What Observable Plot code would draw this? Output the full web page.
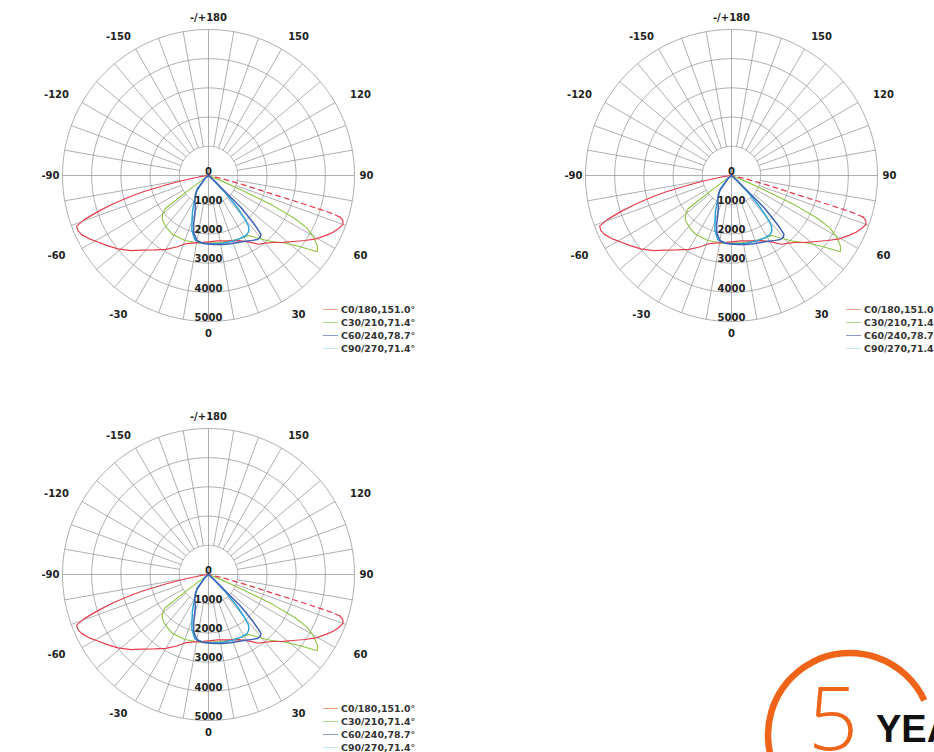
<!DOCTYPE html>
<html><head><meta charset="utf-8">
<script src="https://cdn.jsdelivr.net/npm/d3@7"></script>
<script src="https://cdn.jsdelivr.net/npm/@observablehq/plot@0.6"></script>
<style>
html,body{margin:0;padding:0;background:#fff;}
#root{position:relative;width:934px;height:752px;overflow:hidden;background:#fff;}
.chart{position:absolute;}
.legend{position:absolute;font:bold 9.4px "DejaVu Sans",sans-serif;color:#333;white-space:nowrap;}
.legend .row{display:flex;align-items:center;height:13px;}
.legend .sw{flex:none;width:15px;height:1px;margin-right:3px;}
#logo{position:absolute;left:0;top:0;}
</style></head><body><div id="root"></div>
<script>
// ---------- data ----------
const ringValues = [1000, 2000, 3000, 4000, 5000];
const radialLabelValues = [0, 1000, 2000, 3000, 4000, 5000];
const angleLabelAngles = [0, 30, 60, 90, 120, 150, 180, -150, -120, -90, -60, -30];
const angleLabelTexts = ["0", "30", "60", "90", "120", "150", "-/+180", "-150", "-120", "-90", "-60", "-30"];
const seriesNames = ["C0/180,151.0°", "C30/210,71.4°", "C60/240,78.7°", "C90/270,71.4°"];
const seriesColors = ["#e63b4c", "#8cc443", "#3f62b5", "#2fa4dc"];
const legendColors = ["#f3a27e", "#a8d98a", "#8c9cc8", "#bfe6f2"];

// gamma angle (negative = opposite half-plane) and intensity (cd)
const c0Gamma = [-90,-82,-79,-77.5,-76,-75,-73.5,-72,-70.5,-69,-67,-65,-62,-59,-55,-51,-46,-42,-36,-30,-24,-19,-12,-5,0,8,16,25,31,36,40,44,48,52,56,59.5,63,65.5,68,70,71.5,72.5];
const c0Cd    = [0,300,900,1500,2300,2750,3400,3950,4500,4840,4850,4790,4620,4420,4200,3990,3700,3440,3150,2920,2680,2480,2360,2300,2270,2260,2330,2460,2650,2910,3020,3190,3420,3670,3980,4280,4520,4690,4820,4900,4850,4720];
const c0TailGamma = [72.5,73,73.3,73.8,75,77,90];
const c0TailCd    = [4720,4330,3500,2300,1300,480,0];

const c30Gamma = [-90,-56,-53.5,-52.5,-50,-47,-43.7,-38,-32,-20,-8.5,0,10,20,28,34,40,44,48,52,55,57,60,62,63.5,65,66.5,68,90];
const c30Cd    = [0,100,900,1870,2050,2170,2230,2300,2360,2370,2340,2310,2330,2370,2430,2480,2850,3150,3440,3950,4550,4450,4130,3800,3300,2420,1130,400,0];

const c60Gamma = [-90,-50,-38,-35,-28,-22.3,-19,-17,-14.5,-10,-5,0,5,12,18,28,34,37.5,40,41.7,42.5,43.2,44.3,45.3,45.8,48,90];
const c60Cd    = [0,150,650,780,1000,1180,1450,1740,2020,2270,2330,2350,2370,2420,2460,2560,2680,2760,2760,2700,2500,2280,1900,1550,740,250,0];

const c90Gamma = [-90,-50,-40,-30,-24,-20,-17,-12,-5,0,10,20,28,33,36,38.5,40,42,44,46,90];
const c90Cd    = [0,150,600,950,1350,1650,1950,2250,2330,2340,2370,2400,2420,2420,2350,2200,1900,1450,850,300,0];

// ---------- helpers ----------
const K = 0.0292; // px per cd
const W = 460, H = 360, CX = 200, CY = 180;
const rad = d => d * Math.PI / 180;
const pt = (g, r) => ({x: r * Math.sin(rad(g)), y: r * Math.cos(rad(g))});
const toPts = (gs, cs) => gs.map((g, i) => pt(g, cs[i]));

const series = [
  {pts: toPts(c0Gamma, c0Cd), color: seriesColors[0], w: 1.2},
  {pts: toPts(c30Gamma, c30Cd), color: seriesColors[1], w: 1.1},
  {pts: toPts(c60Gamma, c60Cd), color: seriesColors[2], w: 1.5},
  {pts: toPts(c90Gamma, c90Cd), color: seriesColors[3], w: 1.5}
];
const tail = toPts(c0TailGamma, c0TailCd);

function makeChart() {
  const rings = ringValues.flatMap(r => d3.range(0, 362, 2).map(a => ({...pt(a, r), r})));
  const spokes = d3.range(0, 360, 10).map(a => {
    const r1 = a % 90 === 0 ? 0 : ringValues[0];
    const p1 = pt(a, r1), p2 = pt(a, ringValues[ringValues.length - 1]);
    return {x1: p1.x, y1: p1.y, x2: p2.x, y2: p2.y};
  });
  const angLabels = angleLabelAngles.map((a, i) => {
    const s2 = Math.abs(Math.sin(rad(2 * a)));
    const p = pt(a, (158 + 3 * s2) / K);
    const sh = 16 * s2 * Math.sqrt(Math.abs(Math.sin(rad(a)))) * Math.sign(Math.sin(rad(a)));
    return {x: p.x + sh / K, y: p.y, t: angleLabelTexts[i]};
  });
  const radLabels = radialLabelValues.map(v => ({x: 0, y: v, t: String(v)}));
  const font = {fontSize: 10, fontWeight: "bold", fontFamily: "DejaVu Sans", fill: "#222"};
  return Plot.plot({
    width: W, height: H, margin: 0,
    style: {background: "transparent", overflow: "visible"},
    x: {domain: [-CX / K, (W - CX) / K], range: [0, W], axis: null},
    y: {domain: [-CY / K, (H - CY) / K], range: [0, H], axis: null},
    marks: [
      Plot.line(rings, {x: "x", y: "y", z: "r", stroke: "#8c8c8c", strokeWidth: 0.7}),
      Plot.link(spokes, {x1: "x1", y1: "y1", x2: "x2", y2: "y2", stroke: "#8c8c8c", strokeWidth: 0.7}),
      Plot.line(series[1].pts, {x: "x", y: "y", stroke: series[1].color, strokeWidth: series[1].w}),
      Plot.line(series[0].pts, {x: "x", y: "y", stroke: series[0].color, strokeWidth: series[0].w}),
      Plot.line(tail, {x: "x", y: "y", stroke: seriesColors[0], strokeWidth: 1.2, strokeDasharray: "5,4"}),
      Plot.line(series[3].pts, {x: "x", y: "y", stroke: series[3].color, strokeWidth: series[3].w}),
      Plot.line(series[2].pts, {x: "x", y: "y", stroke: series[2].color, strokeWidth: series[2].w}),
      Plot.text(radLabels, {x: "x", y: "y", text: "t", dy: -4, ...font}),
      Plot.text(angLabels, {x: "x", y: "y", text: "t", ...font})
    ]
  });
}

function makeLegend() {
  const div = document.createElement("div");
  div.className = "legend";
  div.innerHTML = seriesNames.map((n, i) =>
    `<div class="row"><span class="sw" style="background:${legendColors[i]}"></span><span>${n}</span></div>`).join("");
  return div;
}

const root = document.getElementById("root");
const centers = [[208, 175], [731, 175], [208, 574]];
centers.forEach(([cx, cy]) => {
  const svg = makeChart();
  svg.classList.add("chart");
  svg.style.left = (cx - CX) + "px";
  svg.style.top = (cy - CY) + "px";
  root.appendChild(svg);
  const lg = makeLegend();
  lg.style.left = (cx + 115) + "px";
  lg.style.top = (cy + 128) + "px";
  root.appendChild(lg);
});

// warranty badge
const ns = "http://www.w3.org/2000/svg";
const logo = document.createElementNS(ns, "svg");
logo.setAttribute("id", "logo");
logo.setAttribute("width", 934);
logo.setAttribute("height", 752);
const lcx = 850, lcy = 735, lr = 82;
const a0 = rad(25), a1 = rad(210);
const sx = lcx + lr * Math.cos(a0), sy = lcy - lr * Math.sin(a0);
const ex = lcx + lr * Math.cos(a1), ey = lcy - lr * Math.sin(a1);
logo.innerHTML = `
<path d="M${sx},${sy} A${lr},${lr} 0 1 0 ${ex},${ey}" fill="none" stroke="#ef6418" stroke-width="6.5"/>
<text x="808" y="750" font-family="Open Sans, sans-serif" font-weight="300" font-size="88" fill="#ef6418">5</text>
<text x="876" y="742" font-family="Liberation Sans, Arial, sans-serif" font-weight="bold" font-size="38" fill="#111">YEARS</text>`;
root.appendChild(logo);
</script>
</body></html>
